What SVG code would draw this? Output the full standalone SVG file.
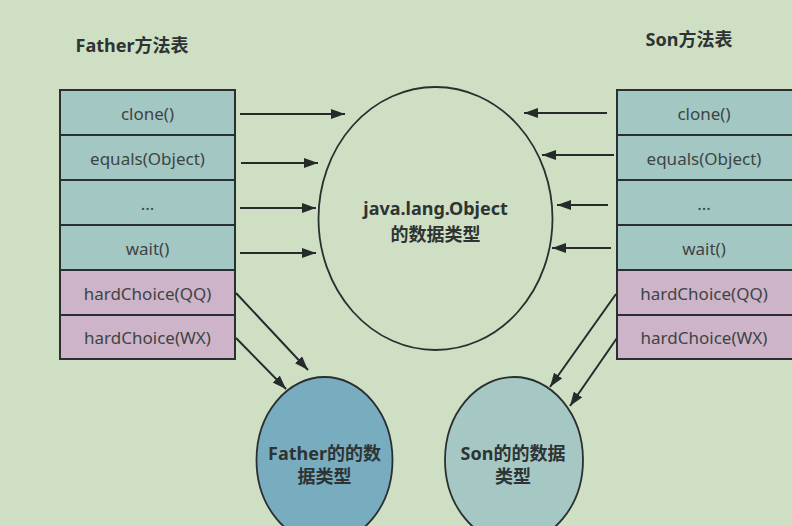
<svg xmlns="http://www.w3.org/2000/svg" width="792" height="526" viewBox="0 0 792 526">
<style>
.t{font-family:"Noto Sans","Noto Sans CJK SC",sans-serif;fill:#3e4444;font-size:17px;text-anchor:middle}
.b{font-family:"Noto Sans","Noto Sans CJK SC",sans-serif;fill:#2e3333;font-size:18px;font-weight:bold;text-anchor:middle}
.teal{fill:#a3c8c3;stroke:#2b2f2f;stroke-width:2}
.pink{fill:#cdb4c9;stroke:#2b2f2f;stroke-width:2}
.c line{stroke:#262a2a;stroke-width:2;marker-end:url(#ah)}
</style>
<defs>
<marker id="ah" viewBox="0 0 14 10" refX="14" refY="5" markerWidth="14" markerHeight="10" markerUnits="userSpaceOnUse" orient="auto">
<path d="M0,0 L14,5 L0,10 Z" fill="#262a2a"/>
</marker>
</defs>
<rect width="792" height="526" fill="#cfdfc4"/>
<text class="b" x="132" y="52">Father方法表</text>
<text class="b" x="689" y="46">Son方法表</text>
<g id="father-table">
<rect class="teal" x="60" y="90" width="175" height="45"/>
<rect class="teal" x="60" y="135" width="175" height="45"/>
<rect class="teal" x="60" y="180" width="175" height="45"/>
<rect class="teal" x="60" y="225" width="175" height="45"/>
<rect class="pink" x="60" y="270" width="175" height="45"/>
<rect class="pink" x="60" y="315" width="175" height="44"/>
<text class="t" x="147.5" y="120">clone()</text>
<text class="t" x="147.5" y="165">equals(Object)</text>
<text class="t" x="147.5" y="210">...</text>
<text class="t" x="147.5" y="255">wait()</text>
<text class="t" x="147.5" y="300">hardChoice(QQ)</text>
<text class="t" x="147.5" y="344">hardChoice(WX)</text>
</g>
<g id="son-table">
<rect class="teal" x="617" y="90" width="176" height="45"/>
<rect class="teal" x="617" y="135" width="176" height="45"/>
<rect class="teal" x="617" y="180" width="176" height="45"/>
<rect class="teal" x="617" y="225" width="176" height="45"/>
<rect class="pink" x="617" y="270" width="176" height="45"/>
<rect class="pink" x="617" y="315" width="176" height="44"/>
<text class="t" x="704" y="120">clone()</text>
<text class="t" x="704" y="165">equals(Object)</text>
<text class="t" x="704" y="210">...</text>
<text class="t" x="704" y="255">wait()</text>
<text class="t" x="704" y="300">hardChoice(QQ)</text>
<text class="t" x="704" y="344">hardChoice(WX)</text>
</g>
<g id="object-type">
<ellipse cx="435.5" cy="218.5" rx="117" ry="131.5" fill="#cfdfc4" stroke="#2b2f2f" stroke-width="1.8"/>
<text class="b" x="435.5" y="215">java.lang.Object</text>
<text class="b" x="435.5" y="241">的数据类型</text>
</g>
<g id="father-type">
<ellipse cx="324.5" cy="460" rx="68" ry="83" fill="#78adc0" stroke="#2b2f2f" stroke-width="1.8"/>
<text class="b" x="324.5" y="460">Father的的数</text>
<text class="b" x="324.5" y="483">据类型</text>
</g>
<g id="son-type">
<ellipse cx="514" cy="460" rx="69" ry="83" fill="#a5c8c4" stroke="#2b2f2f" stroke-width="1.8"/>
<text class="b" x="513" y="460">Son的的数据</text>
<text class="b" x="513" y="483">类型</text>
</g>
<g id="connectors" class="c">
<line x1="240" y1="114" x2="345" y2="114"/>
<line x1="241" y1="163" x2="318" y2="163"/>
<line x1="240" y1="208" x2="316" y2="208"/>
<line x1="240" y1="253" x2="316" y2="253"/>
<line x1="607" y1="113" x2="524" y2="113"/>
<line x1="614" y1="155" x2="542" y2="155"/>
<line x1="608" y1="205" x2="557" y2="205"/>
<line x1="611" y1="248" x2="552" y2="248"/>
<line x1="236" y1="293" x2="308" y2="370"/>
<line x1="236" y1="338" x2="286" y2="389"/>
<line x1="616" y1="294" x2="550" y2="387"/>
<line x1="617" y1="338" x2="570" y2="406"/>
</g>
</svg>
